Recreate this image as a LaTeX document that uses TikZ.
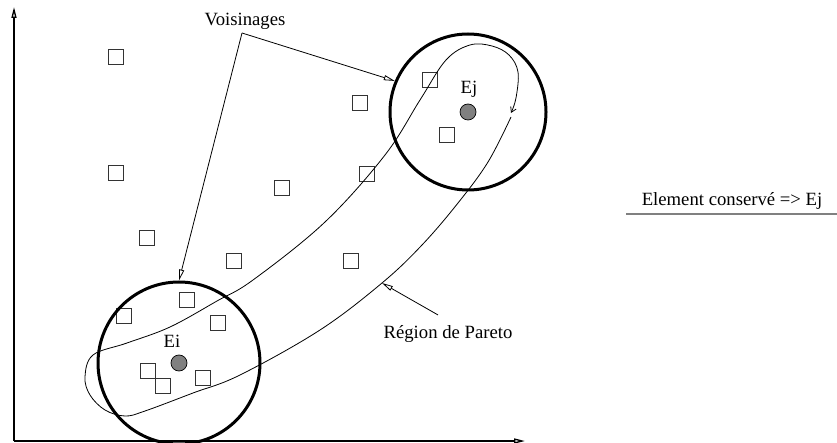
\documentclass[tikz,border=0pt]{standalone}
\usepackage{fontspec}
\setmainfont{Liberation Serif}
\usetikzlibrary{arrows.meta,positioning}

\begin{document}
\begin{tikzpicture}[
      x=1pt,y=-1pt,
      font=\fontsize{18.7}{22}\selectfont,
      cell/.style={rectangle,draw=black!80,line width=0.9pt,minimum size=15pt,inner sep=0pt},
      elem/.style={circle,draw,line width=0.7pt,fill=gray,minimum size=16pt,inner sep=0pt},
      voisin/.style={circle,draw,line width=3pt,inner sep=0pt},
      >={Triangle[open,length=11pt,width=5pt]}
    ]
    \useasboundingbox (0,0) rectangle (837,443);

    % axes
    \coordinate (O) at (14,441);
    \coordinate (ytop) at (14,7);
    \coordinate (xend) at (525,441);
    \draw[->,line width=1.3pt] (O) -- (ytop);
    \draw[->,line width=1.3pt] (O) -- (xend);

    % solutions
    \node[cell] (s1) at (116,57) {};
    \node[cell] (s2) at (360,103) {};
    \node[cell] (s3) at (430,80) {};
    \node[cell] (s4) at (447,135) {};
    \node[cell] (s5) at (116,173) {};
    \node[cell] (s6) at (282,188) {};
    \node[cell] (s7) at (367,174) {};
    \node[cell] (s8) at (147,238) {};
    \node[cell] (s9) at (234,261) {};
    \node[cell] (s10) at (351,261) {};
    \node[cell] (s11) at (187,300) {};
    \node[cell] (s12) at (124,316) {};
    \node[cell] (s13) at (218,323) {};
    \node[cell] (s14) at (148,371) {};
    \node[cell] (s15) at (163,386) {};
    \node[cell] (s16) at (203,378) {};

    % the two elements and their neighbourhoods
    \node[elem] (Ej) at (468,112) {};
    \node[elem] (Ei) at (179,363) {};
    \node at (469,89) {Ej};
    \node at (172,341) {Ei};
    \node[voisin,minimum size=156pt] (Vj) at (Ej) {};
    \node[voisin,minimum size=162pt] (Vi) at (Ei) {};

    % Pareto region
    \draw[line width=0.8pt,-{Straight Barb[length=5pt,width=6pt]}] plot[smooth,tension=0.6] coordinates {
      (511,117) (488,162) (458,203) (422,245) (382,283)
      (320,330) (240,375) (193,393) (145,411) (125,416) (105,410)
      (90,395) (85,377) (93,355) (127,343) (170,327) (217,301) (253,280)
      (325,222) (385,155) (420,100) (446,60) (470,45)
      (492,46) (509,55) (518,72) (516,98) (511,113)};
    \coordinate (onpar) at (382,283);

    % labels
    \node (voisins) at (245,21) {Voisinages};
    \coordinate (fork) at (242,33);
    \draw[->,line width=0.8pt] (fork) -- (Vj.157);
    \draw[->,line width=0.8pt] (fork) -- (Vi.north);

    \node (pareto) at (448,334) {Région de Pareto};
    \draw[->,line width=0.8pt] ([xshift=-10pt,yshift=7pt]pareto.north) -- (onpar);

    \node (keep) at (732,201) {Element conservé => Ej};
    \draw[gray,line width=2pt] (626,214) -- (837,214);
  \end{tikzpicture}
\end{document}
